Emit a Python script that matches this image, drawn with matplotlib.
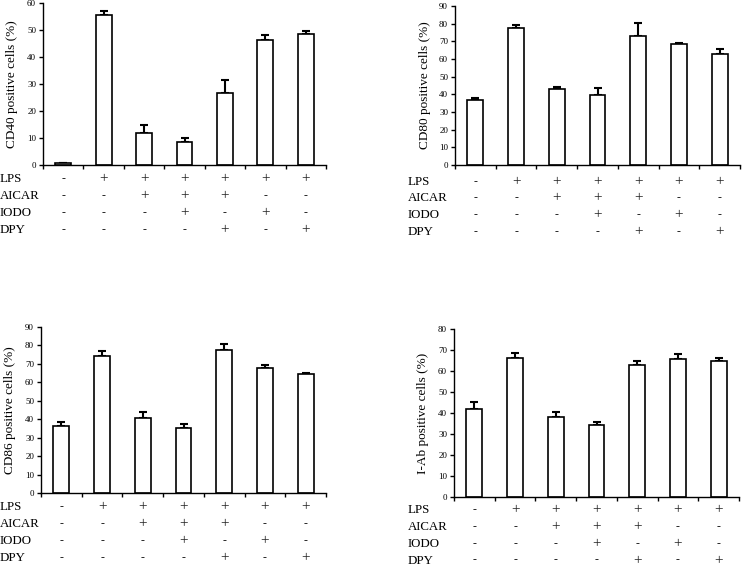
import numpy as np
import matplotlib
matplotlib.use("Agg")
import matplotlib.pyplot as plt
from matplotlib.transforms import blended_transform_factory

plt.rcParams["font.family"] = ["Liberation Serif", "DejaVu Serif"]

# treatment rows (one entry per bar)
row_names = ["LPS", "AICAR", "IODO", "DPY"]
lps   = ["-", "+", "+", "+", "+", "+", "+"]
aicar = ["-", "-", "+", "+", "+", "-", "-"]
iodo  = ["-", "-", "-", "+", "-", "+", "-"]
dpy   = ["-", "-", "-", "-", "+", "-", "+"]

cd40_mean = [0.6, 55.5, 11.9, 8.5, 26.8, 46.4, 48.5]
cd40_err  = [0.1, 1.6, 2.9, 1.4, 4.7, 1.8, 1.3]
cd80_mean = [36.8, 77.4, 42.8, 39.6, 72.8, 68.4, 62.6]
cd80_err  = [1.3, 1.7, 1.4, 4.2, 7.8, 0.8, 3.2]
cd86_mean = [36.3, 74.5, 40.8, 35.2, 77.5, 68.0, 64.3]
cd86_err  = [2.0, 2.5, 3.3, 2.2, 3.5, 1.4, 0.8]
iab_mean  = [41.7, 66.3, 38.0, 34.3, 62.8, 65.5, 65.0]
iab_err   = [3.6, 2.4, 2.4, 1.5, 2.2, 2.7, 1.0]

W, H = 742, 566
fig = plt.figure(figsize=(W / 100, H / 100), dpi=100)

panels = [
    # label, means, errs, ymax, axes rect (px: left, right, bottom_y, top_y), row label x px, row ys px, ylabel x px
    ("CD40 positive cells (%)", cd40_mean, cd40_err, 60, (43, 326, 165, 3), 0, [179, 196, 213, 230], 12),
    ("CD80 positive cells (%)", cd80_mean, cd80_err, 90, (455, 740, 165, 6), 408, [182, 198, 215, 232], 425),
    ("CD86 positive cells (%)", cd86_mean, cd86_err, 90, (41, 326, 493, 327), 0, [507, 524, 541, 558], 10),
    ("I-Ab positive cells (%)", iab_mean, iab_err, 80, (454, 739, 497, 329), 408, [510, 527, 544, 560.5], 423),
]

rows = [lps, aicar, iodo, dpy]
x = np.arange(7)

for ylabel, mean, err, ymax, (l, r, b, t), lab_x, row_y, ylab_x in panels:
    ax = fig.add_axes([l / W, 1 - b / H, (r - l) / W, (b - t) / H])
    ax.bar(x, mean, width=0.39, color="white", edgecolor="black", linewidth=1.2, zorder=2)
    ax.errorbar(x, mean, yerr=[np.zeros(7), err], fmt="none", ecolor="black",
                elinewidth=1.5, capsize=3, capthick=1.5, zorder=1)
    ax.set_xlim(-0.5, 6.5)
    ax.set_ylim(0, ymax)
    ax.set_yticks(np.arange(0, ymax + 1, 10))
    ax.set_xticks(np.arange(-0.5, 7, 1))
    ax.set_xticklabels([])
    ax.spines["top"].set_visible(False)
    ax.spines["right"].set_visible(False)
    ax.spines["left"].set_linewidth(1.0)
    ax.spines["bottom"].set_linewidth(1.0)
    ax.tick_params(axis="both", direction="out", length=3, width=1.0, labelsize=6.5, pad=2)
    fig.text(ylab_x / W, 1 - (b + t) / 2 / H, ylabel, rotation=90, ha="center", va="center", fontsize=9.5)

    tr = blended_transform_factory(ax.transData, fig.transFigure)
    for name, signs, yy in zip(row_names, rows, row_y):
        fig.text(lab_x / W, 1 - yy / H, name, ha="left", va="center", fontsize=9.3)
        for xi, s in zip(x, signs):
            ax.text(xi, 1 - yy / H, s, transform=tr, ha="center", va="center",
                    fontsize=11 if s == "+" else 8.5, color="#222222", clip_on=False)

fig.savefig("out.png", dpi=100)
